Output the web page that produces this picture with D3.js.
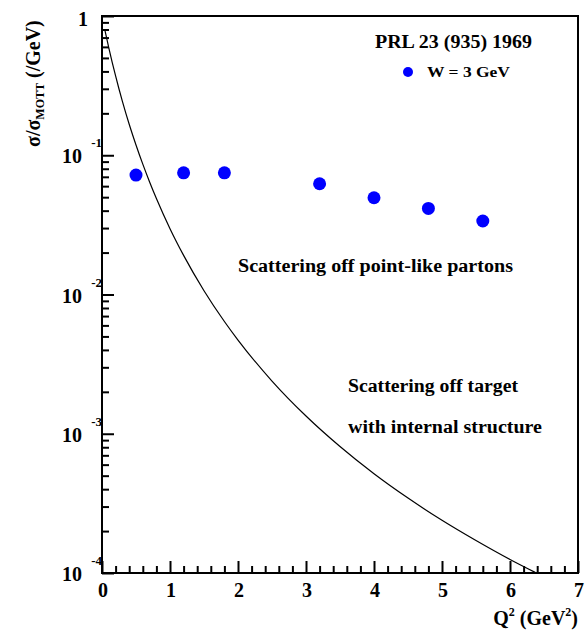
<!DOCTYPE html>
<html><head><meta charset="utf-8">
<script src="https://cdn.jsdelivr.net/npm/d3@7"></script>
<style>
html,body{margin:0;padding:0;background:#fff;}
</style></head>
<body><svg id="c" width="585" height="634"></svg>
<script>
// ---- data ----
const q2Points = [0.5, 1.2, 1.8, 3.2, 4.0, 4.8, 5.6];
const ratioPoints = [0.0721, 0.0748, 0.0748, 0.0624, 0.0495, 0.0415, 0.0337];
const curveQ2 = [0.04, 0.1, 0.15, 0.2, 0.25, 0.3, 0.4, 0.5, 0.6, 0.7, 0.8, 1.0, 1.2, 1.5, 1.8, 2.0, 2.5, 3.0, 3.5, 4.0, 4.5, 5.0, 5.5, 6.0, 6.37];
const curveRatio = [0.803, 0.590, 0.465, 0.371, 0.299, 0.244, 0.167, 0.1186, 0.0863, 0.0643, 0.0489, 0.0297, 0.0191, 0.01065, 0.0064, 0.00471, 0.00239, 0.00134, 0.000809, 0.000516, 0.000345, 0.000239, 0.000171, 0.000125, 0.000101];
const xTickValues = [0, 1, 2, 3, 4, 5, 6, 7];
const yDecades = [-4, -3, -2, -1, 0];
const legendLabel = "W = 3 GeV";
const headerText = "PRL 23 (935) 1969";

const svg = d3.select("#c")
  .attr("font-family", "'Liberation Serif', 'DejaVu Serif', serif")
  .attr("font-weight", "bold");
const L = 102, R = 578, T = 16, B = 573;
const x = d3.scaleLinear().domain([0, 7]).range([L, R]);
const y = d3.scaleLog().domain([1e-4, 1]).range([B, T]);

// frame
svg.append("rect").attr("x", L).attr("y", T).attr("width", R - L).attr("height", B - T)
  .attr("fill", "none").attr("stroke", "#000").attr("stroke-width", 2);

// y ticks (inward)
const yMajor = yDecades.map(d => Math.pow(10, d));
const yMinor = [];
yDecades.slice(0, -1).forEach(d => { for (let k = 2; k <= 9; k++) yMinor.push(k * Math.pow(10, d)); });
function styleAxis(g){ g.select(".domain").remove(); g.selectAll("line").attr("stroke","#000").attr("stroke-width",2); g.selectAll("text").remove(); }
svg.append("g").attr("transform", `translate(${L},0)`)
  .call(d3.axisRight(y).tickValues(yMajor).tickSize(12).tickFormat("")).call(styleAxis);
svg.append("g").attr("transform", `translate(${L},0)`)
  .call(d3.axisRight(y).tickValues(yMinor).tickSize(7).tickFormat("")).call(styleAxis);

// x ticks (inward)
const xMinor = d3.range(0, 35).map(i => i / 5).filter(v => Math.abs(v - Math.round(v)) > 1e-6);
svg.append("g").attr("transform", `translate(0,${B})`)
  .call(d3.axisTop(x).tickValues(xTickValues).tickSize(12).tickFormat("")).call(styleAxis);
svg.append("g").attr("transform", `translate(0,${B})`)
  .call(d3.axisTop(x).tickValues(xMinor).tickSize(7).tickFormat("")).call(styleAxis);

function T_(sel){ return sel.attr("font-family", "'Liberation Serif', 'DejaVu Serif', serif").attr("font-weight","bold").attr("fill","#000"); }

// y tick labels
yDecades.forEach(d => {
  const yy = y(Math.pow(10, d));
  if (d === 0) {
    T_(svg.append("text")).attr("x", 88).attr("y", yy + 10).attr("text-anchor", "end")
      .attr("font-size", 20).text("1");
  } else {
    T_(svg.append("text")).attr("x", 82).attr("y", yy + 8).attr("text-anchor", "end")
      .attr("font-size", 20).text("10");
    T_(svg.append("text")).attr("x", 102).attr("y", yy - 8).attr("text-anchor", "end")
      .attr("font-size", 13).text(String(d));
  }
});

// x tick labels
xTickValues.forEach(v => {
  T_(svg.append("text")).attr("x", x(v) + 1).attr("y", 597).attr("text-anchor", "middle")
    .attr("font-size", 20).text(String(v));
});

// axis titles
const xt = T_(svg.append("text")).attr("x", 578).attr("y", 625).attr("text-anchor", "end").attr("font-size", 20);
xt.append("tspan").text("Q");
xt.append("tspan").attr("font-size", 12).attr("dy", -9).text("2");
xt.append("tspan").attr("dy", 9).text(" (GeV");
xt.append("tspan").attr("font-size", 12).attr("dy", -9).text("2");
xt.append("tspan").attr("dy", 9).text(")");

const yt = T_(svg.append("text")).attr("transform", "translate(40,147) rotate(-90)").attr("text-anchor", "start").attr("font-size", 20);
yt.append("tspan").text("σ/σ");
yt.append("tspan").attr("font-size", 12).attr("dy", 4).text("MOTT");
yt.append("tspan").attr("dy", -4).text(" (/GeV)");

// curve
const line = d3.line().x((d, i) => x(curveQ2[i])).y((d, i) => y(curveRatio[i])).curve(d3.curveMonotoneX);
svg.append("path").attr("d", line(curveQ2)).attr("fill", "none").attr("stroke", "#000").attr("stroke-width", 1.2);

// data points
svg.append("g").selectAll("circle").data(q2Points).join("circle")
  .attr("cx", (d) => x(d)).attr("cy", (d, i) => y(ratioPoints[i])).attr("r", 6.5).attr("fill", "#0000ff");

// header & legend
T_(svg.append("text")).attr("x", 375).attr("y", 48).attr("font-size", 18).attr("textLength", 157).attr("lengthAdjust", "spacingAndGlyphs").text(headerText);
svg.append("circle").attr("cx", 408).attr("cy", 72).attr("r", 5).attr("fill", "#0000ff");
T_(svg.append("text")).attr("x", 427).attr("y", 77).attr("font-size", 14).attr("textLength", 83).attr("lengthAdjust", "spacingAndGlyphs").text(legendLabel);

// annotations
T_(svg.append("text")).attr("x", 238).attr("y", 272).attr("font-size", 18).attr("textLength", 275).attr("lengthAdjust", "spacingAndGlyphs").text("Scattering off point-like partons");
T_(svg.append("text")).attr("x", 348).attr("y", 392).attr("font-size", 18).attr("textLength", 170).attr("lengthAdjust", "spacingAndGlyphs").text("Scattering off target");
T_(svg.append("text")).attr("x", 348).attr("y", 433).attr("font-size", 18).attr("textLength", 194).attr("lengthAdjust", "spacingAndGlyphs").text("with internal structure");
</script></body></html>
